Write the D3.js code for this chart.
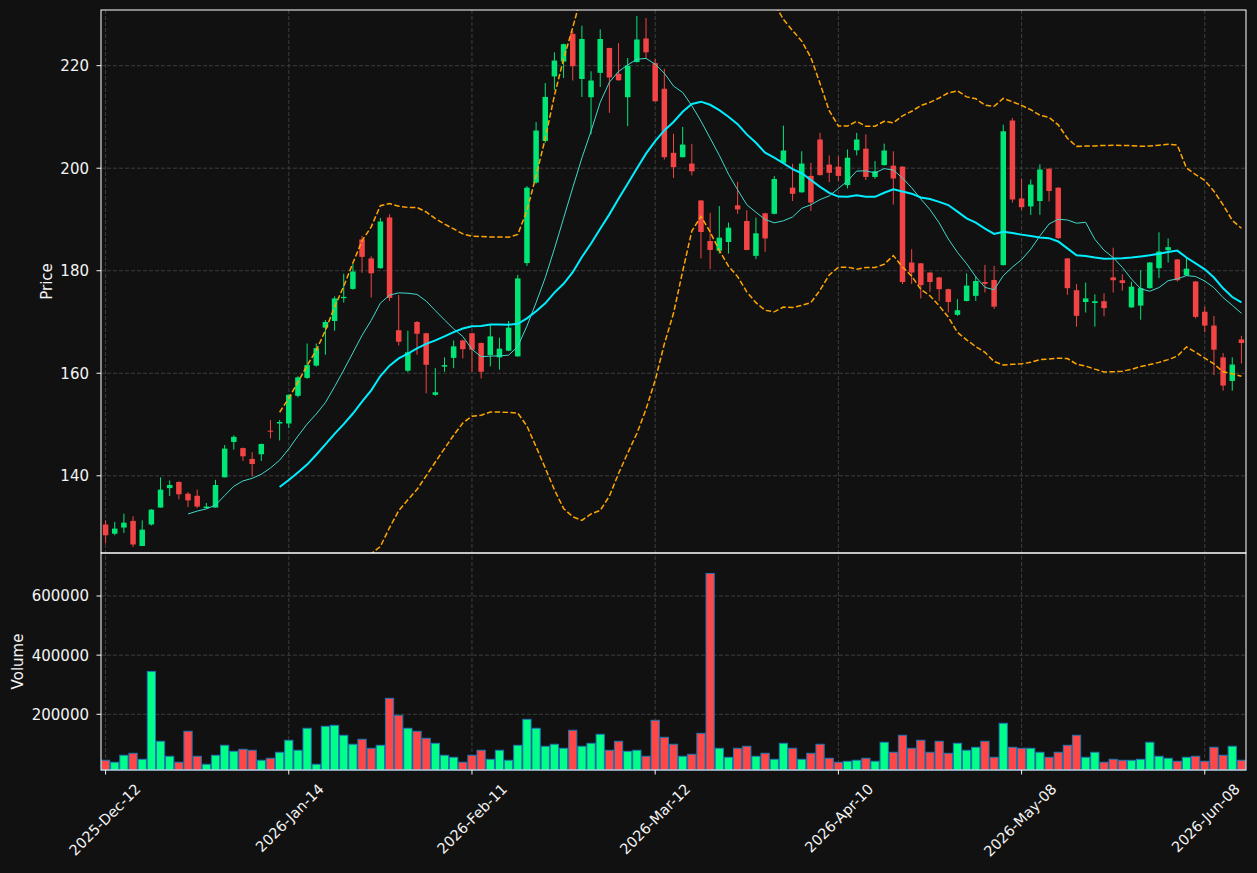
<!DOCTYPE html>
<html>
<head>
<meta charset="utf-8">
<script src="https://cdn.jsdelivr.net/npm/d3@7"></script>
<style>
  html, body { margin: 0; padding: 0; background: #111111; }
  svg { display: block; font-family: "DejaVu Sans", sans-serif; }
</style>
</head>
<body>
<div id="chart"></div>
<script>
// daily bars, index 0 = 2025-Dec-12
var openP = [130.5,128.7,129.9,131.2,126.3,130.5,133.8,137.6,138.8,136.5,136.1,133.7,133.8,139.7,146.6,145.4,143.3,144.2,148.8,150.2,
  150.2,155.6,159.1,161.5,168.9,170.2,174.65,176.45,186.1,182.4,180.5,190.4,168.4,160.5,170.0,167.8,155.8,161.3,163.0,166.4,
  167.8,165.9,163.55,163.1,164.4,163.3,181.5,197.2,205.3,217.9,220.8,226.2,217.4,213.85,218.6,223.45,218.4,213.85,220.7,225.3,
  220.5,215.5,203.0,202.15,200.9,193.7,185.8,183.9,185.6,192.75,189.7,182.9,191.2,191.1,201.05,196.2,195.3,198.5,205.6,200.7,
  200.3,196.7,203.5,203.8,198.3,200.6,200.5,200.3,181.6,181.45,179.65,178.7,176.4,171.4,174.1,175.1,177.8,178.2,181.1,209.3,
  194.1,192.55,193.6,199.9,196.2,182.4,176.2,173.9,173.7,174.05,178.7,178.15,172.85,173.2,176.6,180.5,184.0,182.2,179.1,177.9,
  172.0,169.3,163.1,158.5,166.6];
var highP = [131.3,131.0,132.6,132.1,131.3,133.5,139.7,139.1,138.9,136.8,137.3,134.7,139.2,146.0,147.9,145.5,144.6,146.3,150.9,150.9,
  155.9,159.4,165.8,165.8,170.4,175.0,179.4,181.3,186.8,182.8,190.3,191.0,175.3,168.3,170.2,167.9,161.0,163.1,166.4,166.5,
  167.9,166.0,169.4,166.95,170.2,179.2,196.5,209.0,216.6,222.6,224.3,226.7,227.8,218.9,227.1,223.5,224.4,221.5,229.7,229.3,
  221.3,219.4,206.7,208.05,204.75,193.8,191.3,192.6,189.4,197.35,191.8,190.35,191.3,198.45,208.3,200.85,203.3,201.05,206.9,202.5,
  202.35,203.65,206.9,206.6,201.4,204.8,203.3,200.4,184.2,181.5,179.7,178.8,176.5,174.45,179.5,179.0,181.15,180.95,208.5,209.8,
  197.95,197.8,200.75,200.0,196.3,182.5,177.4,177.7,175.4,175.6,184.5,179.3,177.85,180.1,181.7,187.5,186.3,182.3,182.55,178.0,
  173.0,171.2,163.95,163.1,167.3];
var lowP = [126.8,128.4,128.85,126.1,126.3,130.3,133.8,136.05,135.4,133.9,133.7,133.6,133.8,139.7,145.1,142.9,139.9,142.9,147.3,146.9,
  149.3,155.3,158.9,161.3,163.6,168.3,173.8,176.3,179.6,174.8,180.4,174.1,165.4,160.2,163.6,156.1,155.6,160.3,161.0,162.9,
  160.3,159.0,161.35,160.7,164.3,163.2,180.95,197.0,204.95,215.3,217.6,217.1,213.9,206.6,215.85,210.8,217.1,208.2,220.6,221.5,
  213.0,201.7,198.1,202.1,198.6,182.4,180.3,183.35,183.35,191.1,184.0,182.25,183.7,191.0,201.0,193.6,195.2,191.65,198.6,197.3,
  197.5,196.05,202.5,197.7,197.95,200.5,192.9,177.4,177.4,174.6,175.9,174.1,171.85,171.2,174.0,174.1,175.75,172.55,181.0,193.3,
  191.85,190.9,190.9,193.5,186.2,175.3,169.1,171.85,169.1,171.1,175.75,176.1,172.8,170.45,176.5,178.55,181.6,177.9,179.0,170.7,
  168.0,159.65,156.6,156.6,161.9];
var closeP = [128.4,129.7,130.85,126.6,129.5,133.4,137.3,138.2,136.4,135.2,134.0,134.0,138.2,145.3,147.6,143.8,142.3,146.2,148.6,150.5,
  155.8,159.2,161.6,164.9,170.0,174.6,174.9,179.85,182.7,179.5,189.6,174.7,166.15,164.1,167.7,161.65,156.3,161.6,165.25,164.7,
  164.6,160.3,167.2,164.8,168.9,178.5,196.2,207.35,213.9,221.0,224.2,219.9,225.2,217.1,225.2,217.7,217.15,220.0,225.1,222.6,
  213.05,202.15,200.2,204.6,199.4,187.55,184.05,186.45,188.4,191.97,184.05,187.3,186.3,197.9,203.45,195.0,200.9,193.3,198.65,199.1,
  198.5,202.05,205.6,198.3,199.4,203.45,198.0,177.8,179.65,177.2,177.8,176.4,173.9,172.3,177.1,178.0,177.45,173.0,207.2,193.9,
  192.4,196.8,199.75,195.55,186.35,176.6,171.2,174.6,174.05,172.7,178.15,177.6,176.9,176.6,181.6,183.75,184.6,178.15,180.4,171.0,
  169.3,164.6,157.6,161.7,165.9];
var volume = [44600,37900,61500,68300,48000,345000,108800,58100,37900,142600,58100,31100,61500,95300,75000,81800,78400,44600,51400,71600,
  112200,78400,152700,31100,159500,162800,129100,98700,115600,85100,95300,254000,196600,152700,142600,118900,102000,61500,54700,37900,
  61500,78400,48000,78400,44600,95300,183100,152700,91900,98700,85100,146000,91900,102000,132400,78400,108800,75000,78400,58100,
  179700,122300,98700,58100,64900,135800,676300,85100,54700,85100,91900,58100,68300,48000,102000,85100,48000,68300,98700,51400,
  37900,41200,44600,51400,41200,105400,71600,129100,85100,112200,71600,108800,68300,102000,78400,88500,108800,54700,169600,88500,
  85100,85100,71600,54700,71600,95300,129100,54700,71600,37900,48000,44600,44600,48000,105400,58100,51400,41200,54700,58100,
  41200,88500,61500,91900,44600];

var tickIdx = [0, 20, 40, 60, 80, 100, 120];
var tickLabels = ["2025-Dec-12", "2026-Jan-14", "2026-Feb-11", "2026-Mar-12", "2026-Apr-10", "2026-May-08", "2026-Jun-08"];
var priceTicks = [140, 160, 180, 200, 220];
var volumeTicks = [200000, 400000, 600000];

var W = 1257, H = 873;
var left = 101, right = 1246, pTop = 10, pBottom = 553, vBottom = 770;
var upCol = "#00e676", downCol = "#f24444";
var upVol = "#00ff88", downVol = "#ff4747";

// rolling mean / sample std over the closes
function rolling(arr, n, fn) {
  return arr.map(function(d, i) {
    if (i < n - 1) return null;
    return fn(arr.slice(i - n + 1, i + 1));
  });
}
var ma10 = rolling(closeP, 10, d3.mean);
var ma20 = rolling(closeP, 20, d3.mean);
var sd20 = rolling(closeP, 20, d3.deviation);
var bbUp = ma20.map(function(m, i) { return m == null ? null : m + 2 * sd20[i]; });
var bbLo = ma20.map(function(m, i) { return m == null ? null : m - 2 * sd20[i]; });

var svg = d3.select("#chart").append("svg").attr("width", W).attr("height", H);
svg.append("rect").attr("width", W).attr("height", H).attr("fill", "#111111");

var x = d3.scaleLinear().domain([-0.5, 124.5]).range([left, right]);
var yP = d3.scaleLinear().domain([124.94, 230.86]).range([pBottom, pTop]);
var yV = d3.scaleLinear().domain([11700, 745400]).range([vBottom, pBottom]);

var defs = svg.append("defs");
defs.append("clipPath").attr("id", "clipP").append("rect")
  .attr("x", left).attr("y", pTop).attr("width", right - left).attr("height", pBottom - pTop);

var gridCol = "#3d3d3d";
// grid
var grid = svg.append("g").attr("stroke", gridCol).attr("stroke-width", 1).attr("stroke-dasharray", "4,2");
tickIdx.forEach(function(t) {
  grid.append("line").attr("x1", x(t)).attr("x2", x(t)).attr("y1", pTop).attr("y2", vBottom);
});
priceTicks.forEach(function(t) {
  grid.append("line").attr("x1", left).attr("x2", right).attr("y1", yP(t)).attr("y2", yP(t));
});
volumeTicks.forEach(function(t) {
  grid.append("line").attr("x1", left).attr("x2", right).attr("y1", yV(t)).attr("y2", yV(t));
});

var idx = d3.range(closeP.length);

// volume bars
var bw = 0.9;
svg.append("g").selectAll("rect").data(idx).enter().append("rect")
  .attr("x", function(i) { return x(i - bw / 2); })
  .attr("width", x(bw) - x(0))
  .attr("y", function(i) { return yV(volume[i]); })
  .attr("height", function(i) { return vBottom - yV(volume[i]); })
  .attr("fill", function(i) { return closeP[i] >= openP[i] ? upVol : downVol; })
  .attr("stroke", "#1f77b4").attr("stroke-width", 1);

// candles
var cw = 0.6;
var cg = svg.append("g").attr("clip-path", "url(#clipP)");
cg.selectAll("line").data(idx).enter().append("line")
  .attr("x1", function(i) { return x(i); })
  .attr("x2", function(i) { return x(i); })
  .attr("y1", function(i) { return yP(highP[i]); })
  .attr("y2", function(i) { return yP(lowP[i]); })
  .attr("stroke", function(i) { return closeP[i] >= openP[i] ? upCol : downCol; })
  .attr("stroke-width", 1);
cg.selectAll("rect").data(idx).enter().append("rect")
  .attr("x", function(i) { return x(i - cw / 2); })
  .attr("width", x(cw) - x(0))
  .attr("y", function(i) { return yP(Math.max(openP[i], closeP[i])); })
  .attr("height", function(i) { return Math.max(1, Math.abs(yP(openP[i]) - yP(closeP[i]))); })
  .attr("fill", function(i) { return closeP[i] >= openP[i] ? upCol : downCol; });

// indicator lines
var line = function(arr) {
  return d3.line()
    .defined(function(i) { return arr[i] != null; })
    .x(function(i) { return x(i); })
    .y(function(i) { return yP(arr[i]); })(idx);
};
var lg = svg.append("g").attr("clip-path", "url(#clipP)").attr("fill", "none");
lg.append("path").attr("d", line(bbUp)).attr("stroke", "#ffa500").attr("stroke-width", 1.5).attr("stroke-dasharray", "5.5,2.4");
lg.append("path").attr("d", line(bbLo)).attr("stroke", "#ffa500").attr("stroke-width", 1.5).attr("stroke-dasharray", "5.5,2.4");
lg.append("path").attr("d", line(ma10)).attr("stroke", "#40d8cc").attr("stroke-width", 1);
lg.append("path").attr("d", line(ma20)).attr("stroke", "#00eeff").attr("stroke-width", 2);

// axes
var txtCol = "#f4f4f4";
var ax = svg.append("g").attr("font-size", 15).attr("fill", txtCol);

priceTicks.forEach(function(t) {
  ax.append("line").attr("x1", left - 4.5).attr("x2", left).attr("y1", yP(t)).attr("y2", yP(t)).attr("stroke", txtCol);
  ax.append("text").attr("x", left - 12).attr("y", yP(t)).attr("dy", "0.36em")
    .attr("text-anchor", "end").text(t);
});
volumeTicks.forEach(function(t) {
  ax.append("line").attr("x1", left - 4.5).attr("x2", left).attr("y1", yV(t)).attr("y2", yV(t)).attr("stroke", txtCol);
  ax.append("text").attr("x", left - 12).attr("y", yV(t)).attr("dy", "0.36em")
    .attr("text-anchor", "end").text(t);
});
tickIdx.forEach(function(t, k) {
  ax.append("line").attr("x1", x(t)).attr("x2", x(t)).attr("y1", vBottom).attr("y2", vBottom + 4.5).attr("stroke", txtCol);
  ax.append("text").attr("text-anchor", "end").attr("font-size", 14.5)
    .attr("transform", "translate(" + (x(t) + 36) + "," + 790 + ") rotate(-45)")
    .text(tickLabels[k]);
});

ax.append("text").attr("font-size", 15).attr("text-anchor", "middle")
  .attr("transform", "translate(52," + ((pTop + pBottom) / 2) + ") rotate(-90)").text("Price");
ax.append("text").attr("font-size", 15).attr("text-anchor", "middle")
  .attr("transform", "translate(23," + ((pBottom + vBottom) / 2) + ") rotate(-90)").text("Volume");

// frames
svg.append("rect").attr("x", left).attr("y", pTop).attr("width", right - left).attr("height", pBottom - pTop)
  .attr("fill", "none").attr("stroke", "#ffffff").attr("stroke-width", 1);
svg.append("rect").attr("x", left).attr("y", pBottom).attr("width", right - left).attr("height", vBottom - pBottom)
  .attr("fill", "none").attr("stroke", "#ffffff").attr("stroke-width", 1);
</script>
</body>
</html>
